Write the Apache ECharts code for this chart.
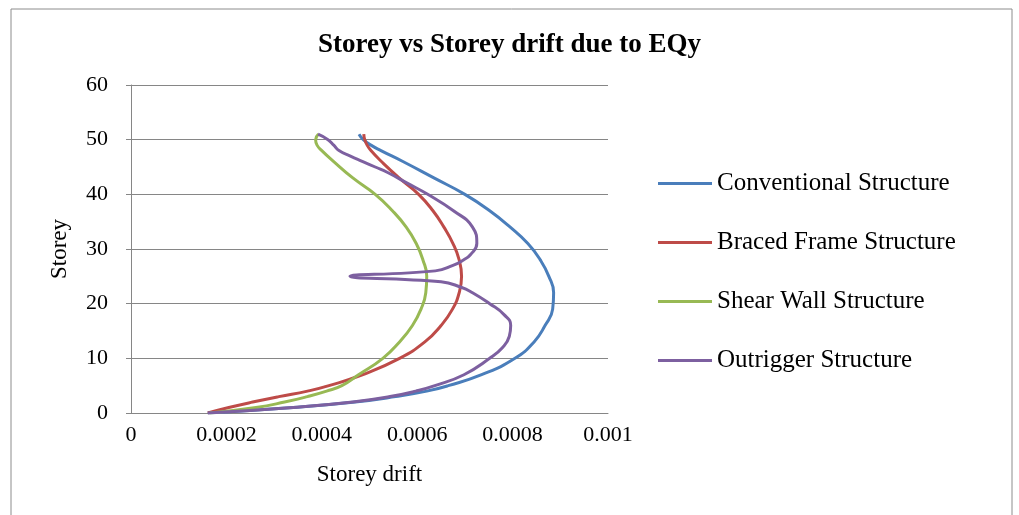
<!DOCTYPE html>
<html>
<head>
<meta charset="utf-8">
<title>Storey vs Storey drift due to EQy</title>
<script src="https://cdn.jsdelivr.net/npm/echarts@6/dist/echarts.min.js"></script>
<style>
  html, body { margin: 0; padding: 0; background: #fff; }
  #chart { width: 1019px; height: 515px; }
</style>
</head>
<body>
<div id="chart"></div>
<script>
  // [storey drift, storey]
  const conventional = [
    [0.000161, 0], [0.00034, 1], [0.00047, 2], [0.000555, 3], [0.00062, 4], [0.000665, 5],
    [0.000735, 7], [0.000805, 10], [0.000845, 13], [0.000868, 16], [0.000884, 19],
    [0.000886, 22], [0.000876, 25], [0.000858, 28], [0.000832, 31], [0.000795, 34],
    [0.000752, 37], [0.0007, 40], [0.000635, 43], [0.00057, 46], [0.000524, 48],
    [0.000503, 49], [0.000487, 50], [0.000478, 51]
  ];
  const braced = [
    [0.000161, 0], [0.000205, 1], [0.000255, 2], [0.00031, 3], [0.00037, 4], [0.000415, 5],
    [0.000485, 7], [0.000563, 10], [0.000616, 13], [0.00065, 16], [0.000674, 19],
    [0.000688, 22], [0.000693, 25], [0.000688, 28], [0.000675, 31], [0.000656, 34],
    [0.000633, 37], [0.000603, 40], [0.000562, 43], [0.000525, 46], [0.000503, 48],
    [0.000495, 49], [0.00049, 50], [0.000488, 51]
  ];
  const shearWall = [
    [0.000165, 0], [0.000262, 1], [0.000322, 2], [0.00037, 3], [0.00041, 4], [0.000442, 5],
    [0.000477, 7], [0.000528, 10], [0.000563, 13], [0.00059, 16], [0.000608, 19],
    [0.000618, 22], [0.00062, 25], [0.000612, 28], [0.000598, 31], [0.000577, 34],
    [0.000548, 37], [0.000512, 40], [0.000465, 43], [0.000425, 46], [0.0004, 48],
    [0.00039, 49], [0.000387, 50], [0.000393, 51]
  ];
  const outrigger = [
    [0.000161, 0], [0.00034, 1], [0.000465, 2], [0.000543, 3], [0.000597, 4], [0.000637, 5],
    [0.000698, 7], [0.000752, 10], [0.000779, 12], [0.000793, 14], [0.000796, 16],
    [0.000782, 18], [0.000752, 20], [0.000716, 22], [0.000692, 23], [0.00065, 24],
    [0.000459, 25], [0.000638, 26], [0.000675, 27], [0.000697, 28], [0.000712, 29],
    [0.000725, 31], [0.000716, 34], [0.000676, 37], [0.000622, 40], [0.00058, 42],
    [0.000538, 44], [0.000512, 45], [0.000486, 46], [0.00046, 47], [0.000436, 48],
    [0.000425, 49], [0.000413, 50], [0.000392, 51]
  ];

  const seriesNames = ['Conventional Structure', 'Braced Frame Structure', 'Shear Wall Structure', 'Outrigger Structure'];
  const seriesData = [conventional, braced, shearWall, outrigger];
  const colors = ['#4a7ebb', '#be4b48', '#98b954', '#7d60a0'];

  const font = 'Liberation Serif';

  const chart = echarts.init(document.getElementById('chart'));
  chart.setOption({
    animation: false,
    color: colors,
    graphic: [{
      type: 'rect',
      silent: true,
      shape: { x: 11, y: 9, width: 1001, height: 600 },
      style: { fill: 'none', stroke: '#8c8c8c', lineWidth: 1 }
    }],
    title: {
      text: 'Storey vs Storey drift due to EQy',
      left: 'center',
      top: 27,
      textStyle: { fontFamily: font, fontSize: 27, fontWeight: 'bold', color: '#000' }
    },
    legend: {
      orient: 'vertical',
      left: 653,
      top: 166,
      icon: 'rect',
      itemWidth: 54,
      itemHeight: 3,
      itemGap: 34,
      textStyle: { fontFamily: font, fontSize: 25, color: '#000', lineHeight: 25 },
      data: seriesNames
    },
    grid: { left: 131, right: 411, top: 85, bottom: 102 },
    xAxis: {
      type: 'value',
      min: 0,
      max: 0.001,
      interval: 0.0002,
      name: 'Storey drift',
      nameLocation: 'middle',
      nameGap: 50,
      nameTextStyle: { fontFamily: font, fontSize: 23, color: '#000' },
      axisLine: { show: true, lineStyle: { color: '#868686' } },
      axisTick: { show: false },
      splitLine: { show: false },
      axisLabel: { fontFamily: font, fontSize: 22, color: '#000', margin: 11 }
    },
    yAxis: {
      type: 'value',
      min: 0,
      max: 60,
      interval: 10,
      name: 'Storey',
      nameLocation: 'middle',
      nameGap: 60,
      nameTextStyle: { fontFamily: font, fontSize: 23, color: '#000' },
      axisLine: { show: true, lineStyle: { color: '#868686' } },
      axisTick: { show: true, length: 5, lineStyle: { color: '#868686' } },
      splitLine: { show: true, lineStyle: { color: '#868686', width: 1 } },
      axisLabel: { fontFamily: font, fontSize: 22, color: '#000', margin: 23 }
    },
    series: seriesNames.map((name, i) => ({
      name: name,
      type: 'line',
      data: seriesData[i],
      smooth: 0.5,
      symbol: 'none',
      lineStyle: { width: 3, color: colors[i] }
    }))
  });
</script>
</body>
</html>
